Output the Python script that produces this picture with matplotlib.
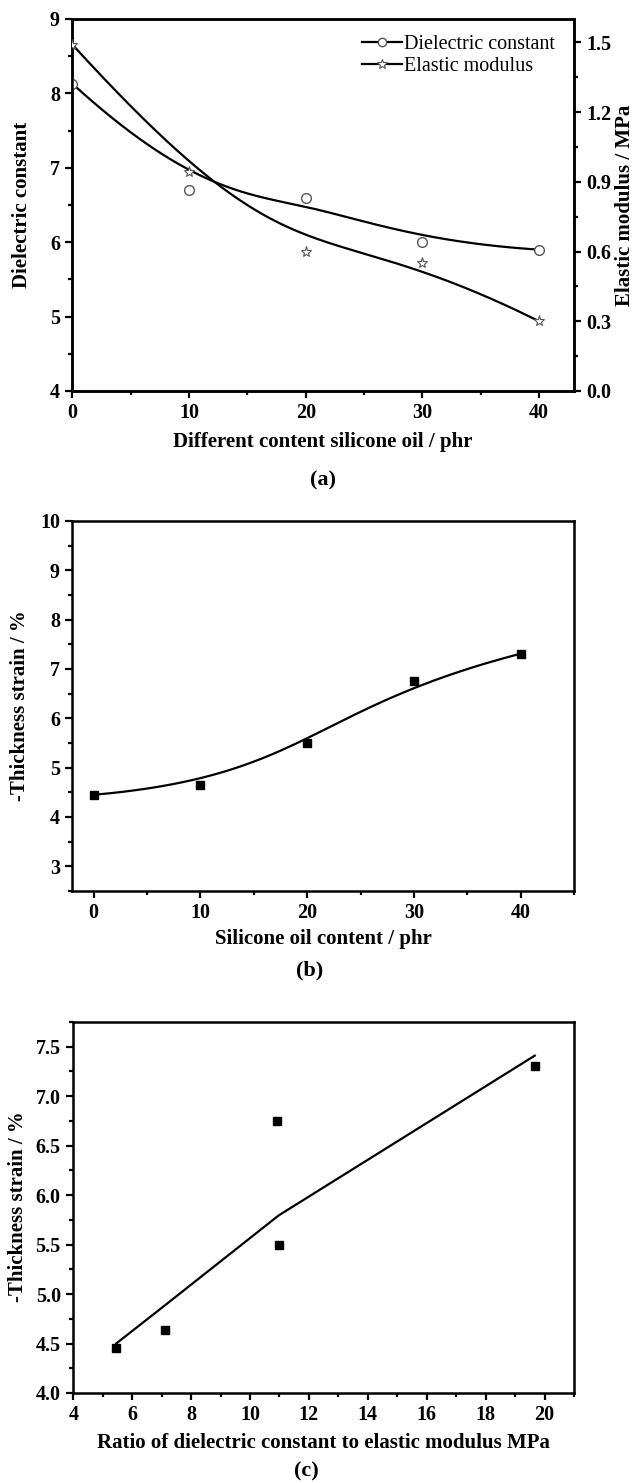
import numpy as np
import matplotlib
matplotlib.use("Agg")
import matplotlib.pyplot as plt
from matplotlib.ticker import MultipleLocator, FormatStrFormatter
from matplotlib.lines import Line2D

# ---- data -------------------------------------------------------------
oil_content = [0, 10, 20, 30, 40]                      # phr
dielectric_constant = [8.13, 6.70, 6.60, 6.00, 5.90]
elastic_modulus = [1.49, 0.94, 0.60, 0.55, 0.30]        # MPa
thickness_strain = [4.45, 4.64, 5.50, 6.75, 7.31]       # -%
# fitted trend of strain against the dielectric/modulus ratio,
# one value per sample (same order as above)
strain_trend = [4.50, 4.89, 5.80, 5.78, 7.41]

# ---- figure geometry ---------------------------------------------------
W, H = 636, 1483
DPI = 100
plt.rcParams["font.family"] = ["Liberation Serif", "DejaVu Serif"]
plt.rcParams["font.weight"] = "bold"
plt.rcParams["axes.linewidth"] = 1.8
plt.rcParams["mathtext.default"] = "regular"

TICK_FS = 14.5
LABEL_FS = 15


def fy(py):
    """Convert a pixel row (from the top) to a figure fraction."""
    return 1 - py / H


def fx(px):
    return px / W


def axes_rect(left, right, top, bottom):
    return [fx(left), fy(bottom), fx(right) - fx(left), (bottom - top) / H]


def bspline(xs, ys, n=400, k=3):
    """Clamped uniform B-spline using the data points as control points."""
    P = np.column_stack([xs, ys]).astype(float)
    m = len(P)
    inner = np.linspace(0, 1, m - k + 1)
    knots = np.concatenate([[0.0] * k, inner, [1.0] * k])
    t = np.linspace(0, 1, n)
    nb = len(knots) - 1
    N = np.zeros((n, nb))
    for i in range(nb):
        N[:, i] = (knots[i] <= t) & (t < knots[i + 1])
    N[t >= 1.0, m - 1] = 1.0
    for p in range(1, k + 1):
        Nn = np.zeros((n, nb - p))
        for i in range(nb - p):
            d1 = knots[i + p] - knots[i]
            d2 = knots[i + p + 1] - knots[i + 1]
            a = (t - knots[i]) / d1 * N[:, i] if d1 > 0 else 0.0
            b = (knots[i + p + 1] - t) / d2 * N[:, i + 1] if d2 > 0 else 0.0
            Nn[:, i] = a + b
        N = Nn
    C = N @ P
    return C[:, 0], C[:, 1]


def style_axis(ax, right=False):
    ax.tick_params(which="both", direction="out", labelsize=TICK_FS,
                   width=1.6, top=False, right=right)
    ax.tick_params(which="major", length=5, pad=4)
    ax.tick_params(which="minor", length=3)
    for lab in ax.get_xticklabels() + ax.get_yticklabels():
        lab.set_fontweight("bold")


fig = plt.figure(figsize=(W / DPI, H / DPI), dpi=DPI)

# ---- (a) dielectric constant and elastic modulus -----------------------
ax1 = fig.add_axes(axes_rect(72.4, 574, 19, 391))
ax1.set_xlim(0, 43)
ax1.set_ylim(4, 9)
ax1.xaxis.set_major_locator(MultipleLocator(10))
ax1.xaxis.set_minor_locator(MultipleLocator(5))
ax1.yaxis.set_major_locator(MultipleLocator(1))
ax1.yaxis.set_minor_locator(MultipleLocator(0.5))

ax2 = ax1.twinx()
ax2.set_ylim(0, 1.6)
ax2.yaxis.set_major_locator(MultipleLocator(0.3))
ax2.yaxis.set_minor_locator(MultipleLocator(0.15))
ax2.yaxis.set_major_formatter(FormatStrFormatter("%.1f"))

dx, dy = bspline(oil_content, dielectric_constant)
ax1.plot(dx, dy, color="black", lw=1.6, zorder=3)
ax1.plot(oil_content, dielectric_constant, ls="none", marker="o", ms=7,
         mfc="white", mec="#555555", mew=1.0, zorder=4)

ex, ey = bspline(oil_content, elastic_modulus)
ax2.plot(ex, ey, color="black", lw=1.6, zorder=3)
ax2.plot(oil_content, elastic_modulus, ls="none", marker="*", ms=8,
         mfc="white", mec="#555555", mew=0.8, zorder=4)

style_axis(ax1)
style_axis(ax2, right=True)
ax2.tick_params(which="both", left=False)

handles = [
    Line2D([], [], color="black", lw=1.6, marker="o", ms=6, mfc="white",
           mec="#555555", mew=1.0),
    Line2D([], [], color="black", lw=1.6, marker="*", ms=7, mfc="white",
           mec="#555555", mew=0.8),
]
ax1.legend(handles, ["Dielectric constant", "Elastic modulus"],
           loc="upper right", bbox_to_anchor=(0.99, 0.995), frameon=False,
           prop={"family": "Liberation Serif", "weight": "normal", "size": 14.5},
           handlelength=2.0, handletextpad=0.1, labelspacing=0.15,
           borderpad=0.2)

fig.text(fx(22), fy(205), "Dielectric constant", rotation=90,
         ha="center", va="center", fontsize=LABEL_FS, fontweight="bold")
fig.text(fx(625), fy(205), "Elastic modulus / MPa", rotation=90,
         ha="center", va="center", fontsize=LABEL_FS, fontweight="bold")
fig.text(fx(323), fy(442), "Different content silicone oil / phr",
         ha="center", va="center", fontsize=LABEL_FS, fontweight="bold")
fig.text(fx(323), fy(480), "(a)", ha="center", va="center",
         fontsize=LABEL_FS + 1, fontweight="bold")

# ---- (b) thickness strain vs silicone oil content ----------------------
ax3 = fig.add_axes(axes_rect(72.4, 574, 521, 891))
ax3.set_xlim(-2, 45)
ax3.set_ylim(2.5, 10)
ax3.xaxis.set_major_locator(MultipleLocator(10))
ax3.xaxis.set_minor_locator(MultipleLocator(5))
ax3.yaxis.set_major_locator(MultipleLocator(1))
ax3.yaxis.set_minor_locator(MultipleLocator(0.5))

sx, sy = bspline(oil_content, thickness_strain)
ax3.plot(sx, sy, color="black", lw=1.6, zorder=3)
ax3.plot(oil_content, thickness_strain, ls="none", marker="s", ms=6,
         color="black", zorder=4)
style_axis(ax3)

fig.text(fx(20), fy(706), "-Thickness strain / %", rotation=90,
         ha="center", va="center", fontsize=LABEL_FS, fontweight="bold")
fig.text(fx(323), fy(939), "Silicone oil content / phr",
         ha="center", va="center", fontsize=LABEL_FS, fontweight="bold")
fig.text(fx(310), fy(970), "(b)", ha="center", va="center",
         fontsize=LABEL_FS + 1, fontweight="bold")

# ---- (c) thickness strain vs ratio ------------------------------------
ratio = np.array(dielectric_constant) / np.array(elastic_modulus)
strain = np.array(thickness_strain)
trend = np.array(strain_trend)

ax4 = fig.add_axes(axes_rect(73.3, 574, 1022, 1393))
ax4.set_xlim(4, 21)
ax4.set_ylim(4.0, 7.75)
ax4.xaxis.set_major_locator(MultipleLocator(2))
ax4.xaxis.set_minor_locator(MultipleLocator(1))
ax4.yaxis.set_major_locator(MultipleLocator(0.5))
ax4.yaxis.set_minor_locator(MultipleLocator(0.25))
ax4.yaxis.set_major_formatter(FormatStrFormatter("%.1f"))

order = np.argsort(ratio)
ax4.plot(ratio[order], trend[order], color="black", lw=1.6, zorder=3)
ax4.plot(ratio, strain, ls="none", marker="s", ms=6, color="black", zorder=4)
style_axis(ax4)

fig.text(fx(18), fy(1207), "-Thickness strain / %", rotation=90,
         ha="center", va="center", fontsize=LABEL_FS, fontweight="bold")
fig.text(fx(323), fy(1443), "Ratio of dielectric constant to elastic modulus MPa",
         ha="center", va="center", fontsize=LABEL_FS, fontweight="bold")
fig.text(fx(306), fy(1471), "(c)", ha="center", va="center",
         fontsize=LABEL_FS + 1, fontweight="bold")

fig.savefig("out.png", dpi=DPI)
